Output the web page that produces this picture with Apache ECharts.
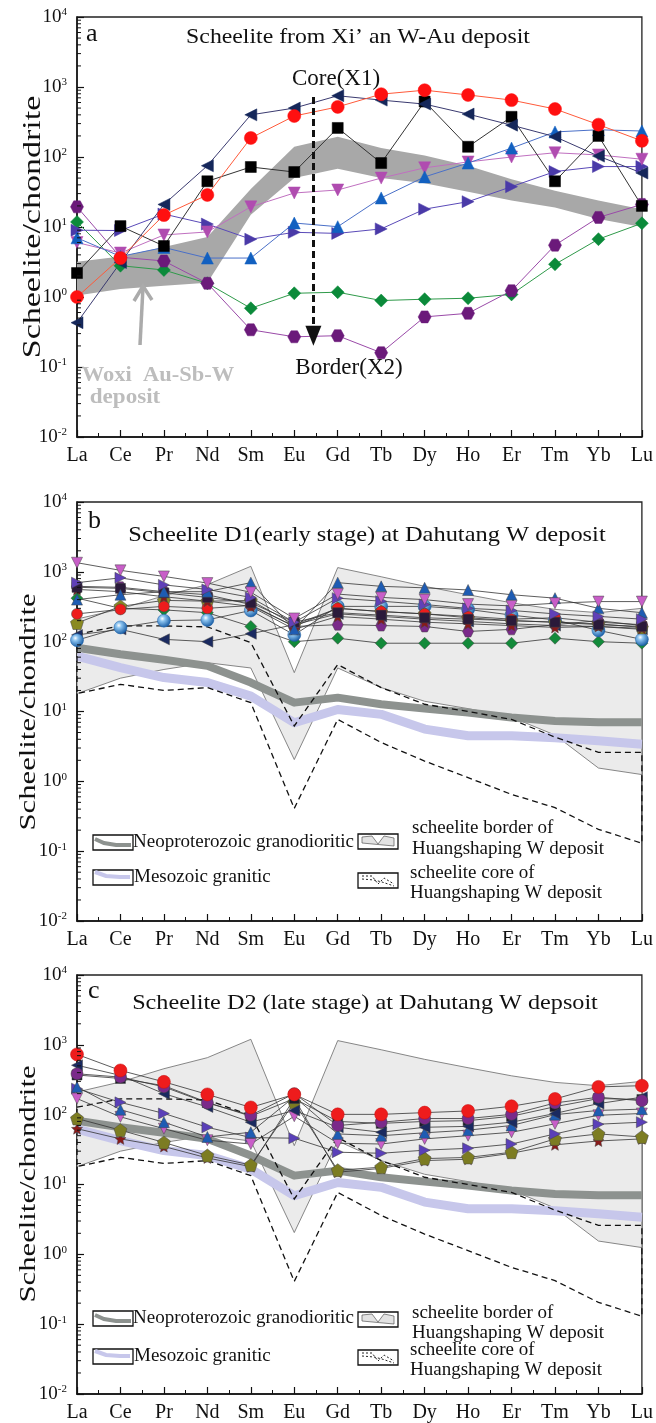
<!DOCTYPE html>
<html>
<head>
<meta charset="utf-8">
<script src="https://cdn.jsdelivr.net/npm/echarts@6/dist/echarts.min.js"></script>
<style>
html, body { margin: 0; padding: 0; background: #fff; }
#chart { width: 656px; height: 1423px; }
</style>
</head>
<body>
<div id="chart"></div>
<script>
const REE = ['La', 'Ce', 'Pr', 'Nd', 'Sm', 'Eu', 'Gd', 'Tb', 'Dy', 'Ho', 'Er', 'Tm', 'Yb', 'Lu'];
const Y_MIN = 0.01;
const Y_MAX = 10000;

// panel a - Xi'an scheelite
const aRedCircle = [1.0, 3.6, 14.8, 28.7, 187, 385, 520, 790, 900, 770, 650, 485, 290, 170];
const aNavyLeft = [0.43, 3.1, 21, 75, 400, 500, 750, 650, 570, 410, 285, 195, 103, 59];
const aBlackSquare = [2.2, 10.3, 5.35, 45, 72, 61, 260, 82, 620, 140, 375, 45, 200, 20];
const aBlueUp = [7.0, 3.8, 5.1, 3.6, 3.6, 11.4, 10.1, 26, 52, 82, 134, 228, 245, 235];
const aPinkDown = [6.0, 4.25, 7.7, 8.5, 19.4, 30.6, 33.8, 50, 70, 85, 100, 115, 107, 93];
const aIndigoRight = [9.0, 8.9, 15.3, 11.0, 6.7, 8.4, 8.1, 9.4, 18, 23, 37.7, 62, 73, 73];
const aGreenDiamond = [11.8, 2.8, 2.43, 1.57, 0.69, 1.13, 1.17, 0.89, 0.93, 0.96, 1.09, 2.93, 6.7, 11.3];
const aPurpleHex = [19.4, 3.7, 3.27, 1.57, 0.34, 0.27, 0.28, 0.16, 0.52, 0.585, 1.23, 5.5, 13.7, 21];
const woxiUpper = [3.2, 3.8, 5.2, 7.2, 35, 140, 195, 135, 105, 75, 48, 33, 24, 18];
const woxiLower = [1.05, 1.3, 1.45, 1.6, 15, 50, 68, 50, 42, 32, 24, 19, 13, 10];

// reference fields shared by panels b and c
const hspBorderUpper = [211, 294, 455, 655, 1200, 36, 1150, 850, 620, 470, 360, 290, 260, 300];
const hspBorderLower = [18, 30, 40, 50, 42, 2.05, 42, 22, 14, 11, 8.3, 4.6, 1.55, 1.25];
const hspCoreUpper = [128, 168, 168, 163, 97, 6.2, 47, 22, 12.7, 10, 7.7, 4.3, 2.6, 2.6];
const hspCoreLower = [18, 24.5, 20, 22, 13.4, 0.41, 7.7, 3.6, 1.95, 1.13, 0.65, 0.42, 0.205, 0.13];
const neoGranodiorite = [82, 66, 55, 45, 26, 13.4, 15.8, 12.7, 11, 9.7, 8.2, 7.3, 7.0, 7.0];
const mesoGranite = [62, 42.6, 30.6, 26, 16.6, 6.9, 10.7, 9.1, 5.6, 4.5, 4.5, 4.2, 3.8, 3.4];

// panel b - D1 early stage
const bPinkDown = [1350, 1050, 860, 690, 510, 215, 480, 430, 400, 345, 325, 355, 375, 375];
const bPurpleRight = [700, 820, 650, 560, 430, 190, 420, 380, 340, 300, 280, 250, 230, 210];
const bSquare = [600, 580, 500, 430, 360, 190, 260, 240, 220, 210, 200, 190, 175, 165];
const bStar = [560, 520, 440, 380, 320, 150, 230, 210, 190, 180, 170, 160, 165, 155];
const bPurpleHex = [620, 600, 520, 470, 340, 165, 175, 170, 165, 140, 150, 175, 200, 170];
const bBlueUp = [400, 470, 520, 520, 700, 150, 700, 620, 590, 550, 470, 420, 300, 260];
const bGreen = [420, 300, 285, 260, 165, 100, 112, 95, 95, 95, 95, 112, 100, 95];
const bRed = [250, 290, 320, 300, 330, 165, 300, 270, 250, 230, 210, 220, 190, 175];
const bOlive = [185, 320, 390, 380, 390, 175, 300, 270, 250, 220, 200, 190, 180, 160];
const bSphere = [105, 160, 200, 205, 280, 125, 320, 320, 320, 290, 240, 205, 145, 108];
const bNavyLeft = [125, 150, 108, 100, 130, 175, 250, 230, 210, 195, 180, 170, 165, 150];

// panel c - D2 late stage
const cRed = [730, 430, 295, 195, 127, 195, 101, 101, 107, 113, 132, 168, 250, 260];
const cPurpleHex = [385, 345, 250, 147, 98, 200, 70, 78, 88, 88, 101, 147, 178, 158];
const cNavyLeft = [510, 365, 200, 129, 78, 115, 66, 56, 66, 68, 78, 104, 144, 178];
const cSquare = [370, 330, 260, 150, 95, 170, 80, 75, 80, 82, 95, 130, 170, 165];
const cBlueUp = [250, 118, 78, 48, 56, 180, 53, 50, 55, 60, 70, 100, 115, 120];
const cPinkDown = [170, 93, 63, 43, 38, 95, 39, 38, 45, 50, 56, 74, 98, 104];
const cPurpleRight = [236, 150, 104, 66, 47, 46, 29, 28, 31, 33, 38, 53, 73, 78];
const cOlive = [88, 60, 40, 26, 19, 150, 16, 17.7, 23.5, 24.4, 29, 45, 53, 48];
const cStar = [63, 45, 35, 24, 18, 170, 15, 17, 22, 23, 28, 37, 42, 45];

const FONT = 'Liberation Serif';
const HEX = 'path://M5,0 L15,0 L20,8.66 L15,17.32 L5,17.32 L0,8.66 Z';
const STAR = 'path://M10,0 L12.9,6.9 L20,7.6 L14.6,12.4 L16.2,19.5 L10,15.8 L3.8,19.5 L5.4,12.4 L0,7.6 L7.1,6.9 Z';
const PENTA = 'path://M10,0 L20,7.3 L16.2,19 L3.8,19 L0,7.3 Z';
const sphereFill = new echarts.graphic.RadialGradient(0.38, 0.35, 0.65, [
  { offset: 0, color: '#ffffff' },
  { offset: 0.3, color: '#8cc4f0' },
  { offset: 1, color: '#1b5fa6' }
]);

const grids = [
  { left: 77, right: 13, top: 17, height: 420 },
  { left: 77, right: 13, top: 502, height: 419 },
  { left: 77, right: 13, top: 975, height: 419 }
].map(g => ({ ...g, show: true, borderColor: '#222', borderWidth: 1.3, backgroundColor: 'transparent' }));

const pts = arr => arr.map((v, i) => [i, v]);

const xAxes = grids.map((g, i) => ({
  gridIndex: i,
  type: 'value',
  min: 0,
  max: 13,
  interval: 1,
  axisLine: { lineStyle: { color: '#111', width: 1.5 } },
  axisTick: { inside: true, length: 7, lineStyle: { color: '#111', width: 1.2 } },
  minorTick: { show: true, splitNumber: 2, length: 4, lineStyle: { color: '#111', width: 1 } },
  splitLine: { show: false },
  minorSplitLine: { show: false },
  axisLabel: {
    formatter: v => REE[v] || '',
    fontFamily: FONT, fontSize: 20, color: '#111', margin: 9
  }
}));

const yAxes = grids.map((g, i) => ({
  gridIndex: i,
  type: 'log',
  logBase: 10,
  min: Y_MIN,
  max: Y_MAX,
  splitNumber: 6,
  axisLine: { show: true, lineStyle: { color: '#111', width: 1.5 } },
  axisTick: { show: true, inside: true, length: 7, lineStyle: { color: '#111', width: 1.2 } },
  splitLine: { show: false },
  axisLabel: {
    margin: 10,
    formatter: v => '{b|10}{s|' + Math.round(Math.log10(v)) + '}',
    rich: {
      b: { fontFamily: FONT, fontSize: 19, color: '#111', lineHeight: 20 },
      s: { fontFamily: FONT, fontSize: 11, color: '#111', verticalAlign: 'top', lineHeight: 20, padding: [0, 0, 8, 0] }
    }
  }
}));

// log minor ticks on the left axis (2..9 of each decade)
const minorVals = [];
for (let e = -2; e < 4; e++) {
  for (let k = 2; k <= 9; k++) minorVals.push(k * Math.pow(10, e));
}
const minorTickSeries = i => ({
  type: 'custom',
  xAxisIndex: i, yAxisIndex: i,
  silent: true, z: 5,
  data: minorVals.map(v => [0, v]),
  renderItem: (params, api) => {
    const p = api.coord([api.value(0), api.value(1)]);
    return { type: 'line', shape: { x1: p[0], y1: p[1], x2: p[0] + 4, y2: p[1] }, style: { stroke: '#111', lineWidth: 1 } };
  }
});

const bandSeries = (i, upper, lower, style, z) => ({
  type: 'custom',
  xAxisIndex: i, yAxisIndex: i,
  silent: true, z: z,
  data: pts(upper),
  renderItem: (params, api) => {
    if (params.dataIndex !== 0) return null;
    const top = upper.map((v, k) => api.coord([k, v]));
    const bot = lower.map((v, k) => api.coord([k, v])).reverse();
    return { type: 'polygon', shape: { points: top.concat(bot) }, style: style };
  }
});

const thickLine = (i, arr, color, width) => ({
  type: 'line', xAxisIndex: i, yAxisIndex: i, data: pts(arr),
  symbol: 'none', z: 2, silent: true,
  lineStyle: { color: color, width: width, join: 'round' }
});

const sample = (i, arr, symbol, color, opts = {}) => ({
  type: 'line', xAxisIndex: i, yAxisIndex: i, data: pts(arr),
  symbol: symbol,
  symbolSize: opts.size || (i === 0 ? 12 : 11),
  symbolRotate: opts.rotate || 0,
  showAllSymbol: true,
  z: 4,
  lineStyle: { color: opts.line || '#333', width: opts.lw || 0.8 },
  itemStyle: {
    color: opts.fill || color,
    borderColor: opts.border || color,
    borderWidth: opts.bw || 0.5,
    opacity: 1
  }
});

const series = [];
[0, 1, 2].forEach(i => series.push(minorTickSeries(i)));

// panel a
series.push(bandSeries(0, woxiUpper, woxiLower, { fill: '#a8a8a8', stroke: 'none' }, 1));
series.push(sample(0, aGreenDiamond, 'diamond', '#0b8a3a', { line: '#2f9a4a', lw: 1, size: 13 }));
series.push(sample(0, aPurpleHex, HEX, '#6b1a7a', { line: '#9a4aa8', lw: 1, size: [13, 12] }));
series.push(sample(0, aIndigoRight, 'triangle', '#4a3aa8', { line: '#5a4ab8', lw: 1, rotate: -90 }));
series.push(sample(0, aPinkDown, 'triangle', '#b04cb0', { line: '#c070c0', lw: 1, rotate: 180 }));
series.push(sample(0, aBlueUp, 'triangle', '#1260c0', { line: '#4a70c8', lw: 1 }));
series.push(sample(0, aBlackSquare, 'rect', '#000', { line: '#333', lw: 1, size: 11 }));
series.push(sample(0, aNavyLeft, 'triangle', '#15275a', { line: '#3a3a70', lw: 1, rotate: 90 }));
series.push(sample(0, aRedCircle, 'circle', '#ff1010', { line: '#ff5a3a', lw: 1, size: 13 }));
series.push({
  type: 'line', xAxisIndex: 0, yAxisIndex: 0, data: [], z: 6,
  markLine: {
    silent: true, animation: false,
    symbol: ['none', 'triangle'], symbolSize: [16, 20],
    label: { show: false },
    lineStyle: { type: [7, 4], width: 3, color: '#111' },
    data: [[{ coord: [5.44, 720] }, { coord: [5.44, 0.28] }]]
  }
});

// panels b and c: reference fields
[1, 2].forEach(i => {
  series.push(bandSeries(i, hspBorderUpper, hspBorderLower, { fill: '#ebebeb', stroke: '#6a6a6a', lineWidth: 0.8 }, 1));
  series.push(thickLine(i, neoGranodiorite, '#8d928f', 8));
  series.push(thickLine(i, mesoGranite, '#c7c7eb', 9));
  series.push(bandSeries(i, hspCoreUpper, hspCoreLower, { fill: 'none', stroke: '#111', lineWidth: 1.3, lineDash: [6, 4] }, 3));
});

// panel b samples
series.push(sample(1, bGreen, 'diamond', '#138a3a', { border: '#444', size: 12 }));
series.push(sample(1, bNavyLeft, 'triangle', '#1a2a60', { border: '#444', rotate: 90 }));
series.push(sample(1, bSphere, 'circle', '#1b5fa6', { fill: sphereFill, border: '#1b5fa6', size: 13 }));
series.push(sample(1, bOlive, PENTA, '#8a8a22', { border: '#444', size: 13 }));
series.push(sample(1, bRed, 'circle', '#ee1c1c', { border: '#444' }));
series.push(sample(1, bPurpleHex, HEX, '#7a2a8a', { border: '#444' }));
series.push(sample(1, bStar, STAR, '#8a1a1a', { border: '#444' }));
series.push(sample(1, bSquare, 'rect', '#2a1a3a', { border: '#444', size: 10 }));
series.push(sample(1, bBlueUp, 'triangle', '#1e5cb3', { border: '#444' }));
series.push(sample(1, bPurpleRight, 'triangle', '#6040b8', { border: '#444', rotate: -90 }));
series.push(sample(1, bPinkDown, 'triangle', '#c85ec8', { border: '#444', rotate: 180 }));

// panel c samples
series.push(sample(2, cStar, STAR, '#8a1a1a', { border: '#444' }));
series.push(sample(2, cOlive, PENTA, '#7c7c22', { border: '#444', size: 13 }));
series.push(sample(2, cPurpleRight, 'triangle', '#5a40b8', { border: '#444', rotate: -90 }));
series.push(sample(2, cPinkDown, 'triangle', '#c85ec8', { border: '#444', rotate: 180 }));
series.push(sample(2, cBlueUp, 'triangle', '#1e5cb3', { border: '#444' }));
series.push(sample(2, cSquare, 'rect', '#1a1a2a', { border: '#444', size: 10 }));
series.push(sample(2, cNavyLeft, 'triangle', '#1a2a60', { border: '#444', rotate: 90 }));
series.push(sample(2, cPurpleHex, 'circle', '#7a2a8a', { border: '#444', size: 12 }));
series.push(sample(2, cRed, 'circle', '#ee1c1c', { border: '#c41010', size: 13 }));

// text and annotation graphics
const txt = (x, y, text, size, opts = {}) => ({
  type: 'text', x: x, y: y, z: 20, silent: true,
  rotation: opts.rotation || 0,
  scaleX: opts.scaleX || 1,
  style: {
    text: text,
    fontFamily: FONT,
    fontSize: size,
    fontWeight: opts.weight || 'normal',
    fill: opts.color || '#111',
    textAlign: opts.align || 'left',
    align: opts.align || 'left',
    textVerticalAlign: 'middle',
    verticalAlign: 'middle'
  }
});

const legend = (neoY, mesoY, rightRows) => {
  const els = [];
  const box = (x, y) => ({ type: 'rect', z: 20, silent: true, shape: { x: x, y: y, width: 40, height: 15 }, style: { fill: '#fff', stroke: '#111', lineWidth: 1.3 } });
  els.push(box(93, neoY - 7));
  els.push({ type: 'polyline', z: 21, silent: true, shape: { points: [[95, neoY - 3], [104, neoY + 1], [116, neoY + 3], [131, neoY + 3]] }, style: { stroke: '#8d928f', lineWidth: 4, fill: 'none' } });
  els.push(txt(133, neoY, 'Neoproterozoic granodioritic', 19));
  els.push(box(93, mesoY - 7));
  els.push({ type: 'polyline', z: 21, silent: true, shape: { points: [[95, mesoY - 5], [106, mesoY - 1], [120, mesoY], [130, mesoY]] }, style: { stroke: '#c7c7eb', lineWidth: 4, fill: 'none' } });
  els.push(txt(134, mesoY, 'Mesozoic granitic', 19));
  // border field icon
  const bY = rightRows[0];
  els.push(box(358, bY - 7));
  els.push({ type: 'polygon', z: 21, silent: true, shape: { points: [[362, bY - 4], [372, bY - 5], [378, bY + 3], [384, bY - 5], [394, bY - 3], [394, bY + 5], [362, bY + 2]] }, style: { fill: '#e3e3e3', stroke: '#555', lineWidth: 0.7 } });
  els.push(txt(412, rightRows[1], 'scheelite border of', 19));
  els.push(txt(412, rightRows[2], 'Huangshaping W deposit', 19));
  const cY = rightRows[3];
  els.push(box(358, cY - 7));
  els.push({ type: 'polyline', z: 21, silent: true, shape: { points: [[362, cY - 4], [372, cY - 4], [378, cY + 4], [384, cY - 2], [394, cY + 4]] }, style: { stroke: '#222', lineWidth: 1, lineDash: [2, 2], fill: 'none' } });
  els.push({ type: 'polyline', z: 21, silent: true, shape: { points: [[362, cY - 1], [374, cY], [382, cY + 2], [394, cY + 6]] }, style: { stroke: '#222', lineWidth: 1, lineDash: [2, 2], fill: 'none' } });
  els.push(txt(410, rightRows[4], 'scheelite core of', 19));
  els.push(txt(410, rightRows[5], 'Huangshaping W deposit', 19));
  return els;
};

const graphics = [
  // panel a
  txt(86, 34, 'a', 26),
  txt(358, 37, 'Scheelite from Xi\u2019 an W-Au deposit', 22, { align: 'center', scaleX: 1.08 }),
  txt(33, 227, 'Scheelite/chondrite', 25, { align: 'center', rotation: Math.PI / 2, scaleX: 1.36 }),
  txt(336, 79, 'Core(X1)', 23, { align: 'center' }),
  txt(349, 368, 'Border(X2)', 23, { align: 'center' }),
  txt(158, 376, 'Woxi  Au-Sb-W', 21, { align: 'center', weight: 'bold', color: '#bdbdbd', scaleX: 1.07 }),
  txt(125, 398, 'deposit', 21, { align: 'center', weight: 'bold', color: '#bdbdbd', scaleX: 1.1 }),
  { type: 'line', z: 20, silent: true, shape: { x1: 140, y1: 345, x2: 143, y2: 287 }, style: { stroke: '#ababab', lineWidth: 3.5 } },
  { type: 'polyline', z: 20, silent: true, shape: { points: [[134, 301], [143, 286], [152, 300]] }, style: { stroke: '#ababab', lineWidth: 3.5, fill: 'none' } },
  // panel b
  txt(88, 521, 'b', 26),
  txt(367, 535, 'Scheelite D1(early stage) at Dahutang W deposit', 22, { align: 'center', scaleX: 1.11 }),
  txt(29, 712, 'Scheelite/chondrite', 24, { align: 'center', rotation: Math.PI / 2, scaleX: 1.28 }),
  // panel c
  txt(88, 991, 'c', 26),
  txt(365, 1003, 'Scheelite D2 (late stage) at Dahutang W depsoit', 22, { align: 'center', scaleX: 1.1 }),
  txt(29, 1184, 'Scheelite/chondrite', 24, { align: 'center', rotation: Math.PI / 2, scaleX: 1.28 })
].concat(
  legend(842, 877, [841, 828, 849, 880, 873, 893]),
  legend(1318, 1356, [1319, 1313, 1333, 1357, 1350, 1370])
);

const chart = echarts.init(document.getElementById('chart'), null, { renderer: 'canvas' });
chart.setOption({
  animation: false,
  backgroundColor: '#fff',
  grid: grids,
  xAxis: xAxes,
  yAxis: yAxes,
  series: series,
  graphic: graphics
});
</script>
</body>
</html>
